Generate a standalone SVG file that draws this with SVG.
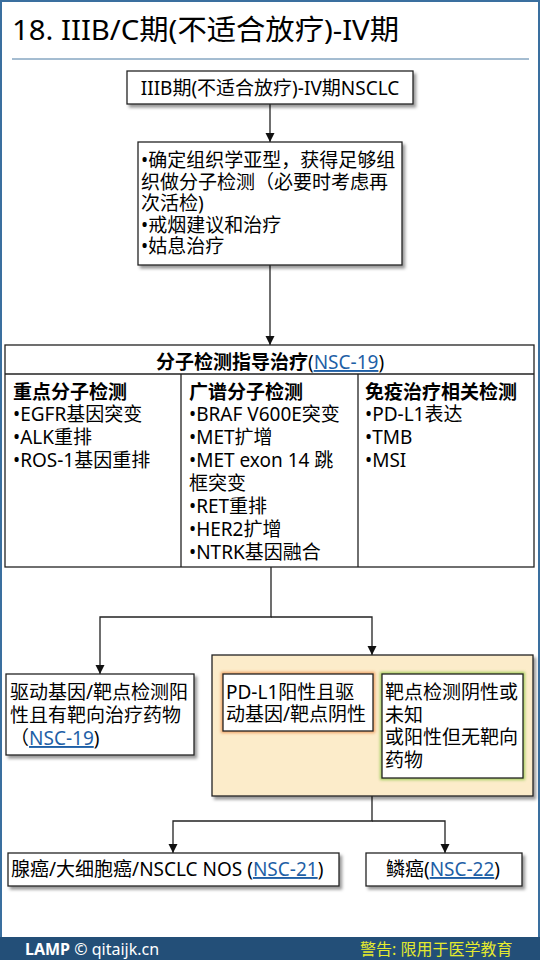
<svg xmlns="http://www.w3.org/2000/svg" width="540" height="960" viewBox="0 0 540 960">
<style>
text{font-family:"Noto Sans","Noto Sans CJK SC",sans-serif;font-size:19px;fill:#000}
.b{font-weight:bold}
.lk{fill:#1e5fa6;text-decoration:underline}
.box{fill:#fff;stroke:#222;stroke-width:1.3}
.ln{fill:none;stroke:#222;stroke-width:1.3}
</style>
<defs>
<filter id="sh" x="-10%" y="-10%" width="130%" height="140%">
<feDropShadow dx="2.5" dy="3" stdDeviation="1.6" flood-color="#000" flood-opacity="0.4"/>
</filter>
<filter id="gl" x="-20%" y="-20%" width="140%" height="140%">
<feGaussianBlur stdDeviation="1.8"/>
</filter>
<marker id="ar" markerWidth="10" markerHeight="10" refX="9" refY="5" orient="auto" markerUnits="userSpaceOnUse">
<path d="M0,0.5 L9,5 L0,9.5 Z" fill="#111"/>
</marker>
</defs>
<rect x="0" y="0" width="540" height="960" fill="#fff"/>
<rect x="1" y="1" width="538" height="958" fill="none" stroke="#3a6f9f" stroke-width="2"/>
<g id="title">
<text x="12" y="40" style="font-size:28px" textLength="387" lengthAdjust="spacingAndGlyphs">18. IIIB/C期(不适合放疗)-IV期</text>
<line x1="12" y1="59" x2="529" y2="59" stroke="#4a7aa3" stroke-width="1"/>
</g>
<g id="connectors" class="ln">
<line x1="270" y1="104" x2="270" y2="142" marker-end="url(#ar)"/>
<line x1="270" y1="265" x2="270" y2="345" marker-end="url(#ar)"/>
<polyline points="271,567 271,617 100,617 100,674" marker-end="url(#ar)"/>
<polyline points="271,617 372,617 372,655" marker-end="url(#ar)"/>
<polyline points="372,796 372,821 173,821 173,853" marker-end="url(#ar)"/>
<polyline points="372,821 445,821 445,853" marker-end="url(#ar)"/>
</g>
<g id="n1">
<rect class="box" x="127" y="71" width="286" height="33" filter="url(#sh)"/>
<text x="270" y="95" text-anchor="middle">IIIB期(不适合放疗)-IV期NSCLC</text>
</g>
<g id="n2">
<rect class="box" x="138" y="142" width="264" height="123" filter="url(#sh)"/>
<text x="141" y="167">•确定组织学亚型，获得足够组</text>
<text x="141" y="188.5">织做分子检测（必要时考虑再</text>
<text x="141" y="210">次活检)</text>
<text x="141" y="231.5">•戒烟建议和治疗</text>
<text x="141" y="253">•姑息治疗</text>
</g>
<g id="n3">
<rect class="box" x="5" y="345" width="529" height="222"/>
<line class="ln" x1="5" y1="374" x2="534" y2="374"/>
<line class="ln" x1="181" y1="374" x2="181" y2="567"/>
<line class="ln" x1="358" y1="374" x2="358" y2="567"/>
<text x="270" y="369" text-anchor="middle"><tspan class="b">分子检测指导治疗</tspan>(<tspan class="lk">NSC-19</tspan>)</text>
<text x="13" y="399" class="b">重点分子检测</text>
<text x="13" y="421">•EGFR基因突变</text>
<text x="13" y="444">•ALK重排</text>
<text x="13" y="467">•ROS-1基因重排</text>
<text x="189" y="399" class="b">广谱分子检测</text>
<text x="189" y="421">•BRAF V600E突变</text>
<text x="189" y="444">•MET扩增</text>
<text x="189" y="467">•MET exon 14 跳</text>
<text x="189" y="490">框突变</text>
<text x="189" y="513">•RET重排</text>
<text x="189" y="536">•HER2扩增</text>
<text x="189" y="559">•NTRK基因融合</text>
<text x="365" y="399" class="b">免疫治疗相关检测</text>
<text x="365" y="421">•PD-L1表达</text>
<text x="365" y="444">•TMB</text>
<text x="365" y="467">•MSI</text>
</g>
<g id="n4">
<rect class="box" x="6" y="674" width="188" height="81" filter="url(#sh)"/>
<text x="10" y="699">驱动基因/靶点检测阳</text>
<text x="10" y="722">性且有靶向治疗药物</text>
<text x="10" y="745">（<tspan class="lk">NSC-19</tspan>)</text>
</g>
<g id="n5">
<rect x="212" y="655" width="321" height="141" fill="#fcecca" stroke="#222" stroke-width="1.3" filter="url(#sh)"/>
</g>
<g id="n6">
<rect x="223" y="674" width="150" height="57" fill="none" stroke="#e8823a" stroke-width="4" opacity="0.7" filter="url(#gl)"/>
<rect class="box" x="223" y="674" width="150" height="57"/>
<text x="226" y="699">PD-L1阳性且驱</text>
<text x="226" y="720.5">动基因/靶点阴性</text>
</g>
<g id="n7">
<rect x="382" y="674" width="141" height="104" fill="none" stroke="#8cc63f" stroke-width="4" opacity="0.8" filter="url(#gl)"/>
<rect class="box" x="382" y="674" width="141" height="104"/>
<text x="385" y="699">靶点检测阴性或</text>
<text x="385" y="721.5">未知</text>
<text x="385" y="744">或阳性但无靶向</text>
<text x="385" y="766.5">药物</text>
</g>
<g id="n8">
<rect class="box" x="8" y="853" width="331" height="33" filter="url(#sh)"/>
<text x="11" y="876">腺癌/大细胞癌/NSCLC NOS (<tspan class="lk">NSC-21</tspan>)</text>
</g>
<g id="n9">
<rect class="box" x="366" y="853" width="156" height="33" filter="url(#sh)"/>
<text x="443" y="876" text-anchor="middle">鳞癌(<tspan class="lk">NSC-22</tspan>)</text>
</g>
<g id="footer">
<rect x="0" y="937" width="540" height="23" fill="#234f78"/>
<text x="25" y="955" style="font-size:16px;fill:#fff"><tspan class="b" style="fill:#fff">LAMP</tspan> © qitaijk.cn</text>
<text x="360" y="955" style="font-size:16px;fill:#e4ea2e">警告: 限用于医学教育</text>
</g>
</svg>
